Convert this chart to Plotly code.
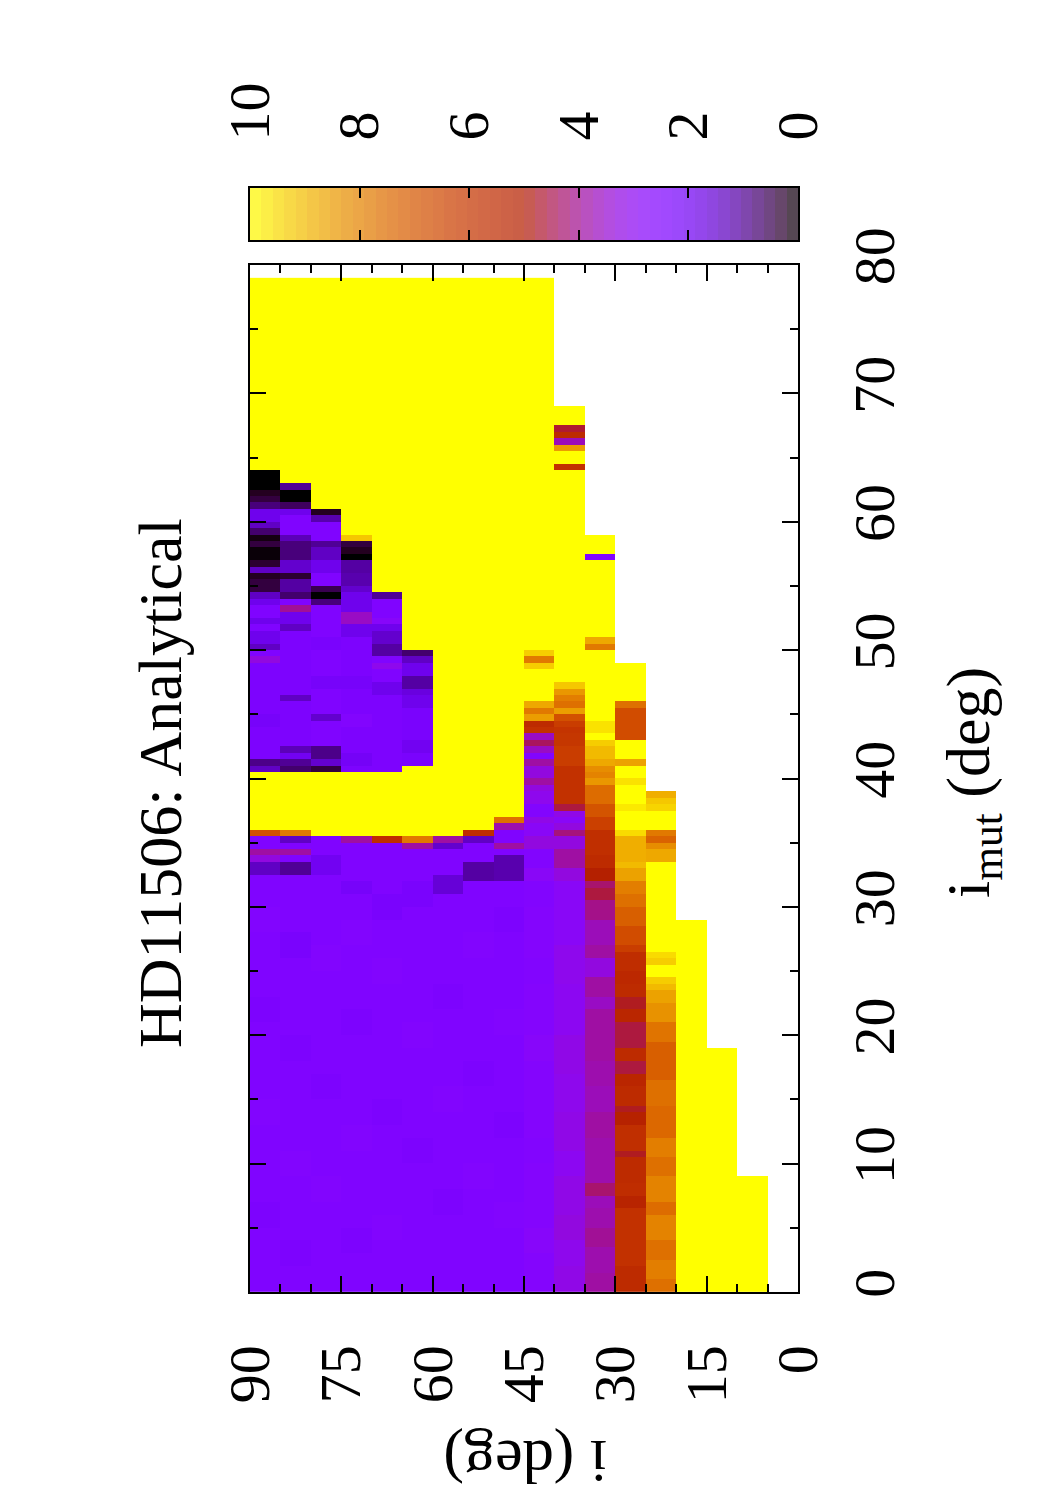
import math
import numpy as np
import plotly.graph_objects as go

# ---------------- data ----------------
# lower edge of every 5-degree bin of i (deg)
i_lo = [0, 5, 10, 15, 20, 25, 30, 35, 40, 45, 50, 55, 60, 65, 70, 75, 80, 85]
i_width = 5
# upper end (i_mut, deg) of the computed region in each i bin
imut_top = [0, 9, 19, 29, 39, 49, 59, 69, 79, 79, 79, 79, 79, 79, 79, 79, 79, 79]
imut_step = 0.5

# (i_mut from, i_mut to, value); later segments override earlier ones; 12 = above range
c00 = []
c05 = [(0, 9, 12)]
c10 = [(0, 19, 12)]
c15 = [(0, 29, 12)]
c20 = [(0, 39, 12),
       (0, 1, 7.6), (1, 2.5, 7.9), (2.5, 4, 7.6), (4, 6, 8.0), (6, 7, 7.5), (7, 9, 8.0),
       (9, 10.5, 7.6), (10.5, 12, 7.9), (12, 14.5, 7.4), (14.5, 16.5, 7.6), (16.5, 19.5, 7.2),
       (19.5, 21, 7.7), (21, 22.5, 8.3), (22.5, 23.5, 8.6), (23.5, 24, 9.0), (24, 24.5, 9.3),
       (25.5, 26, 9.3), (26, 26.5, 9.5),
       (33.5, 34.5, 8.7), (34.5, 35, 8.2), (35, 35.5, 7.3), (35.5, 36, 7.8),
       (37.5, 38, 9.4), (38, 38.5, 9.2), (38.5, 39, 8.8)]
c25 = [(0, 49, 12),
       (0, 2, 5.5), (2, 6.5, 5.8), (6.5, 7.5, 5.2), (7.5, 8.5, 5.6), (8.5, 10.5, 5.5),
       (10.5, 11, 4.8), (11, 13, 5.7), (13, 14, 5.1), (14, 14.5, 4.8), (14.5, 16, 5.5),
       (16, 17, 5.3), (17, 18, 4.6), (18, 19, 5.5), (19, 21, 4.6), (21, 22, 5.3),
       (22, 23, 4.8), (23, 24, 5.5), (24, 25, 5.4), (25, 26.5, 5.6), (26.5, 27, 6.2),
       (27, 28.5, 6.7), (28.5, 30, 7.2), (30, 31, 7.6), (31, 32, 7.9), (32, 33, 8.6),
       (33, 33.5, 9.0), (33.5, 35.5, 8.8), (35.5, 36, 9.5),
       (37.5, 38, 9.7), (39.5, 40, 9.6),
       (41, 41.5, 8.6), (43, 45.5, 6.7), (45.5, 46, 7.6)]
c30 = [(0, 59, 12),
       (0, 1.5, 3.9), (1.5, 3.5, 3.8), (3.5, 5, 4.0), (5, 6.5, 3.8), (6.5, 7.5, 3.7),
       (7.5, 8.5, 4.3), (8.5, 12, 3.8), (12, 14, 3.9), (14, 16, 3.7), (16, 18, 3.8),
       (18, 22, 3.9), (22, 23, 3.6), (23, 24.5, 3.9), (24.5, 26, 3.3), (26, 27, 3.9),
       (27, 29, 3.7), (29, 30.5, 4.1), (30.5, 31.5, 4.6), (31.5, 32, 4.3), (32, 33, 5.0),
       (33, 34, 5.5), (34, 36, 5.7), (36, 37, 6.3), (37, 38, 6.9), (38, 39.5, 7.5),
       (39.5, 40, 8.4), (40, 40.5, 8.0), (40.5, 41, 8.2), (41, 41.5, 8.7), (41.5, 42.5, 9.0),
       (42.5, 43, 9.3), (43.5, 44.5, 9.6),
       (50, 50.5, 7.8), (50.5, 51, 8.7), (57, 57.5, 2.6)]
c35 = [(0, 69, 12),
       (0, 2, 3.2), (2, 4, 3.1), (4, 6, 3.3), (6, 9, 3.2), (9, 11, 3.0), (11, 14, 3.2),
       (14, 17, 3.1), (17, 20, 3.2), (20, 24, 3.0), (24, 27, 3.1), (27, 32, 2.9),
       (32, 33, 3.3), (33, 34.5, 3.9), (34.5, 35.5, 3.3), (35.5, 36, 4.2), (36, 36.5, 3.3),
       (36.5, 37, 2.9), (37, 37.5, 3.2), (37.5, 38, 4.6), (38, 41, 5.8), (41, 42.5, 6.2),
       (42.5, 43.5, 6.0), (43.5, 44, 5.9), (44, 44.5, 6.2), (44.5, 45, 6.8), (45, 45.5, 8.5),
       (45.5, 46, 7.6), (46, 46.5, 7.9), (46.5, 47, 8.4), (47, 47.5, 9.2),
       (64, 64.5, 5.8), (65.5, 66, 8.5), (66, 66.5, 3.7), (66.5, 67, 5.5), (67, 67.5, 4.7)]
c40 = [(0, 79, 12),
       (0, 30, 2.7), (3, 5, 2.8), (10, 12, 2.6), (18, 20, 2.8), (24, 26, 2.6),
       (30, 34.5, 2.6), (32, 33, 2.9), (34.5, 35.5, 3.3), (35.5, 36.5, 2.9), (36.5, 37, 3.2),
       (37, 38, 2.6), (38, 39, 3.1), (39, 39.5, 3.3), (39.5, 40, 3.9), (40, 41, 3.3),
       (41, 41.5, 3.9), (41.5, 42, 2.6), (42, 42.5, 3.6), (42.5, 43, 4.4), (43, 43.5, 3.6),
       (43.5, 44, 5.8), (44, 44.5, 5.5), (44.5, 45, 8.5), (45, 45.5, 7.8), (45.5, 46, 8.7),
       (48.5, 49, 9.3), (49, 49.5, 7.8), (49.5, 50, 9.3)]
c45 = [(0, 79, 12),
       (0, 36, 2.5), (5, 7, 2.6), (12, 14, 2.4), (20, 22, 2.6), (28, 30, 2.4),
       (32, 34, 1.2), (34.5, 35, 3.9), (36, 36.5, 3.8), (36.5, 37, 7.6)]
c50 = [(0, 79, 12),
       (0, 35.5, 2.5), (8, 10, 2.6), (16, 18, 2.4), (26, 28, 2.6), (32, 33.5, 1.1),
       (35, 35.5, 1.4), (35.5, 36, 5.6)]
c55 = [(0, 79, 12),
       (0, 35.5, 2.5), (6, 8, 2.4), (14, 16, 2.6), (22, 24, 2.4), (31, 32.5, 1.6),
       (34.5, 35, 1.5), (35, 35.5, 3.9)]
c60 = [(0, 79, 12),
       (0, 35.5, 2.5), (10, 12, 2.4), (19, 21, 2.6), (30, 32, 2.3), (34.5, 35, 3.9),
       (35, 35.5, 7.8),
       (41, 45.5, 2.3), (42, 43, 2.0), (45.5, 46.5, 1.9), (46.5, 47, 1.7), (47, 48, 1.1),
       (48, 49, 1.9), (49, 49.5, 1.4), (49.5, 50, 0.7)]
c65 = [(0, 79, 12),
       (0, 35, 2.5), (4, 6, 2.6), (13, 15, 2.4), (24, 26, 2.6), (29, 31, 2.3), (35, 35.5, 5.6),
       (40.5, 54.5, 2.4), (46.5, 47.5, 1.9), (47.5, 48.5, 2.5), (48.5, 49, 3.1), (49, 49.5, 2.5),
       (49.5, 50.5, 1.1), (50.5, 51.5, 1.5), (51.5, 52, 1.9), (52, 52.5, 2.8), (52.5, 54, 2.5),
       (54, 54.5, 1.0)]
c70 = [(0, 79, 12),
       (0, 35, 2.5), (3, 5, 2.4), (11, 13, 2.6), (20, 22, 2.4), (27, 29, 2.6), (31, 32, 2.2),
       (35, 35.5, 3.9),
       (40.5, 58.5, 2.4), (41, 42, 2.1), (44, 45, 2.6), (47, 48, 2.2), (51, 52, 1.9),
       (52, 53, 3.6), (53, 54.5, 1.9), (54.5, 55, 1.5), (55, 56, 1.2), (56, 57, 1.1),
       (57, 57.5, 0.0), (57.5, 58, 0.2), (58, 58.5, 0.4), (58.5, 59, 9.2)]
c75 = [(0, 79, 12),
       (0, 35.5, 2.5), (7, 9, 2.6), (15, 17, 2.4), (25, 27, 2.6), (32.5, 34, 2.0),
       (40.5, 61, 2.5), (40.5, 41, 0.4), (41, 41.5, 1.5), (41.5, 42.5, 0.9), (44.5, 45, 1.5),
       (47, 48, 2.2), (50, 51, 2.3), (53.5, 54, 0.8), (54, 54.5, 0.0), (54.5, 55, 0.5),
       (56, 57, 1.9), (57, 58, 1.4), (58, 58.5, 1.0), (60, 60.5, 1.2), (60.5, 61, 0.2)]
c80 = [(0, 79, 12),
       (0, 35.5, 2.5), (2, 4, 2.4), (9, 11, 2.6), (18, 20, 2.4), (26, 28, 2.3),
       (32.5, 33.5, 1.0), (34, 34.5, 3.9), (35, 35.5, 1.4), (35.5, 36, 7.8),
       (40.5, 63, 2.4), (40.5, 41, 0.7), (41, 41.5, 1.0), (41.5, 42, 2.0), (42, 42.5, 1.3),
       (46, 46.5, 1.4), (51.5, 52, 1.4), (52, 53, 1.9), (53, 53.5, 4.0), (53.5, 54, 2.5),
       (54, 54.5, 0.7), (54.5, 55.5, 1.1), (55.5, 56, 0.3), (56, 57, 1.5), (57, 58.5, 0.8),
       (58.5, 59, 1.3), (59, 60.5, 2.5), (60.5, 61, 1.9), (61, 61.5, 0.6), (61.5, 62.5, 0.0),
       (62.5, 63, 1.0)]
c85 = [(0, 79, 12),
       (0, 35.5, 2.5), (5, 7, 2.4), (13, 15, 2.6), (21, 23, 2.4), (28, 30, 2.6),
       (32.5, 33.5, 1.4), (33.5, 34, 3.3), (34, 34.5, 3.9), (35.5, 36, 6.8),
       (40.5, 64, 2.4), (40.5, 41, 1.4), (41, 41.5, 0.9), (44, 45, 2.2), (49, 49.5, 3.3),
       (49.5, 50, 2.5), (50, 50.5, 1.4), (50.5, 51.5, 1.9), (51.5, 52, 2.5), (52, 52.5, 1.9),
       (52.5, 53.5, 2.5), (53.5, 54, 1.9), (54, 54.5, 1.4), (54.5, 55.5, 0.4), (55.5, 56, 0.2),
       (56, 56.5, 1.4), (56.5, 57, 0.3), (57, 58, 0.05), (58, 58.5, 0.4), (58.5, 59, 0.1),
       (59, 59.5, 0.7), (59.5, 60, 1.4), (60, 61, 1.9), (61, 61.5, 0.8), (61.5, 62, 0.4),
       (62, 62.5, 0.2), (62.5, 64, 0.0)]
columns = [c00, c05, c10, c15, c20, c25, c30, c35, c40, c45, c50, c55, c60, c65, c70,
           c75, c80, c85]

i_ticks = [0, 15, 30, 45, 60, 75, 90]
imut_ticks = [0, 10, 20, 30, 40, 50, 60, 70, 80]
cb_ticks = [0, 2, 4, 6, 8, 10]

# ---------------- build grid ----------------
n_rows = int(round(max(imut_top) / imut_step))
imut_c = [imut_step * (k + 0.5) for k in range(n_rows)]
i_c = [lo + i_width / 2 for lo in i_lo]
z = np.full((n_rows, len(i_lo)), np.nan)
for j, segs in enumerate(columns):
    for (a, b, v) in segs:
        for r, yc in enumerate(imut_c):
            if a <= yc < b and yc < imut_top[j]:
                z[r, j] = v


# gnuplot default palette (rgbformulae 7,5,15)
def pal(t):
    r = math.sqrt(t)
    g = t ** 3
    b = max(0.0, math.sin(2 * math.pi * t))
    return "rgb(%d,%d,%d)" % (round(255 * r), round(255 * g), round(255 * b))


cscale = [[k / 64, pal(k / 64)] for k in range(65)]

FONT = "Liberation Serif"
fig = go.Figure()
fig.add_trace(go.Heatmap(x=i_c, y=imut_c, z=z, zmin=0, zmax=10, colorscale=cscale,
                         showscale=False, hoverinfo="skip", xgap=0, ygap=0))

# colour box drawn as a strip on its own axes
n_cb = 48
cb_x = [10 * (k + 0.5) / n_cb for k in range(n_cb)]
fig.add_trace(go.Heatmap(x=cb_x, y=[0], z=[cb_x], zmin=0, zmax=10, colorscale=cscale,
                         showscale=False, hoverinfo="skip", opacity=0.72,
                         xaxis="x2", yaxis="y2"))

W, H = 1050, 1500
L, R, T, B = 250, 252, 150, 208
ph = H - T - B


def py(px):
    return (H - B - px) / ph


def pxr(px):
    return (px - L) / (W - L - R)


axis_common = dict(showline=True, linecolor="black", linewidth=2, mirror="ticks",
                   ticks="inside", tickcolor="black", tickwidth=2, ticklen=16,
                   showgrid=False, zeroline=False,
                   tickfont=dict(family=FONT, size=58, color="black"))

fig.update_layout(
    width=W, height=H, margin=dict(l=L, r=R, t=T, b=B),
    paper_bgcolor="white", plot_bgcolor="white", showlegend=False,
    xaxis=dict(range=[90, 0], tickvals=i_ticks, tickangle=-90, domain=[0, 1], anchor="y",
               ticklabelstandoff=28,
               minor=dict(dtick=5, ticks="inside", ticklen=8, tickcolor="black", tickwidth=2),
               **axis_common),
    yaxis=dict(range=[0, 80], tickvals=imut_ticks, tickangle=-90, side="right",
               domain=[0, py(265)], anchor="x", ticklabelstandoff=24,
               minor=dict(dtick=5, ticks="inside", ticklen=8, tickcolor="black", tickwidth=2),
               **axis_common),
    xaxis2=dict(range=[10, 0], tickvals=cb_ticks, tickangle=-90, side="top",
                domain=[0, 1], anchor="y2", ticklabelstandoff=34,
                **{**axis_common, "ticklen": 10}),
    yaxis2=dict(range=[-0.5, 0.5], domain=[py(240), py(188)], anchor="x2",
                showticklabels=False, ticks="", showline=True, linecolor="black",
                linewidth=2, mirror=True, showgrid=False, zeroline=False),
    annotations=[
        dict(text="HD11506: Analytical", xref="paper", yref="paper", x=pxr(160),
             y=py(783), textangle=-90, showarrow=False, xanchor="center",
             yanchor="middle", font=dict(family=FONT, size=62, color="black")),
        dict(text="i<sub>mut</sub> (deg)", xref="paper", yref="paper", x=pxr(972),
             y=py(782), textangle=-90, showarrow=False, xanchor="center",
             yanchor="middle", font=dict(family=FONT, size=62, color="black")),
        dict(text="i (deg)", xref="paper", yref="paper", x=pxr(525), y=py(1462),
             textangle=180, showarrow=False, xanchor="center", yanchor="middle",
             font=dict(family=FONT, size=62, color="black")),
    ],
)

fig.write_html("out.html")
